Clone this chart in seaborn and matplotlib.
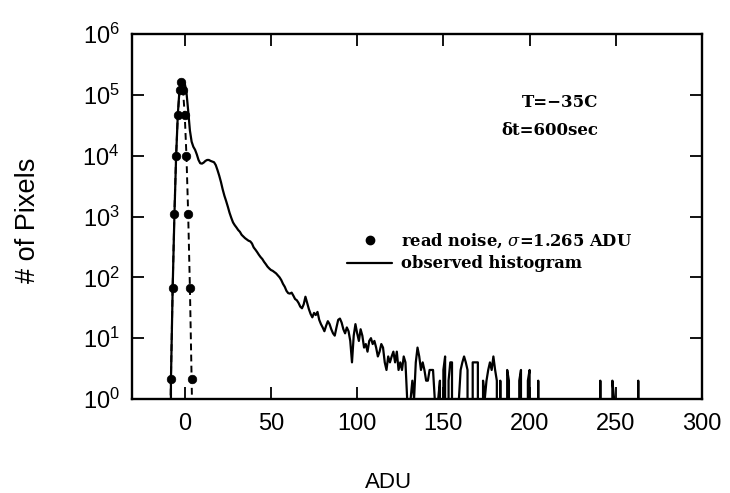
import numpy as np
import pandas as pd
import matplotlib
matplotlib.use("Agg")
import matplotlib.pyplot as plt
from matplotlib.lines import Line2D
import seaborn as sns

# ---------------- data ----------------
# read-noise Gaussian model, sigma = 1.265 ADU
noise_adu = [-9, -8, -7, -6, -5, -4, -3, -2, -1, 0, 1, 2, 3, 4, 5]
noise_counts = [0.04, 2.1, 68, 1100, 10000, 47000, 120000, 165000,
                120000, 47000, 10000, 1100, 68, 2.1, 0.04]

# observed dark histogram, one bin per ADU starting at -9
obs_first_adu = -9
obs_counts = [
    0, 2, 65, 1000, 9500, 48000, 125000, 160000, 165000, 155000,          # -9..0
    110000, 55000, 26000, 17000, 14000, 12500, 10500, 8500, 7500, 7400,  # 1..10
    7700, 8200, 8500, 8500, 8200, 8000, 7800, 7000, 5800, 4700,          # 11..20
    3700, 2800, 2200, 1800, 1450, 1150, 950, 800, 720, 660,              # 21..30
    600, 560, 500, 470, 440, 420, 400, 390, 360, 310,                    # 31..40
    285, 260, 235, 215, 200, 180, 165, 150, 140, 132,                    # 41..50
    128, 122, 116, 108, 100, 90, 78, 70, 60, 55,                         # 51..60
    54, 56, 50, 44, 42, 38, 33, 31, 36, 48,                              # 61..70
    38, 30, 25, 22, 26, 24, 27, 20, 17, 15,                              # 71..80
    13, 16, 19, 17, 14, 12, 11, 15, 20, 21,                              # 81..90
    18, 14, 12, 15, 13, 9, 4, 11, 17, 12,                                # 91..100
    9, 14, 11, 7, 8, 6, 9, 10, 8, 9,                                     # 101..110
    7, 5, 6, 8, 7, 4, 3, 5, 4, 5,                                        # 111..120
    6, 4, 6, 3, 4, 3, 5, 4, 1, 0,                                        # 121..130
    1, 2, 1, 4, 7, 5, 3, 4, 3, 2,                                        # 131..140
    2, 3, 3, 3, 1, 0, 1, 2, 0, 3,                                        # 141..150
    5, 0, 2, 4, 4, 0, 1, 0, 1, 3,                                        # 151..160
    4, 5, 4, 3, 0, 0, 4, 4, 4, 4,                                        # 161..170
    0, 0, 2, 1, 2, 3, 4, 3, 5, 3,                                        # 171..180
    2, 0, 2, 0, 0, 0, 3, 2, 0, 0,                                        # 181..190
    0, 0, 0, 2, 3, 0, 0, 0, 2, 3,                                        # 191..200
    0, 0, 0, 0, 2, 0, 0, 0, 0, 0,                                        # 201..210
    0, 0, 0, 0, 0, 0, 0, 0, 0, 0,                                        # 211..220
    0, 0, 0, 0, 0, 0, 0, 0, 0, 0,                                        # 221..230
    0, 0, 0, 0, 0, 0, 0, 0, 0, 0,                                        # 231..240
    2, 0, 0, 0, 0, 0, 0, 2, 1, 0,                                        # 241..250
    0, 0, 0, 0, 0, 0, 0, 0, 0, 0,                                        # 251..260
    0, 0, 2, 0, 0,                                                       # 261..265
]

x_ticks = [0, 50, 100, 150, 200, 250, 300]
y_ticks = [1, 10, 100, 1000, 10000, 100000, 1000000]

legend_noise = r"read noise, $\sigma$=1.265 ADU"
legend_obs = "observed histogram"
note_lines = ["T=\u221235C", "\u03b4t=600sec"]

# ---------------- figure ----------------
sns.set_style("ticks")
plt.rcParams["font.family"] = ["Liberation Sans", "DejaVu Sans"]
plt.rcParams["mathtext.fontset"] = "dejavuserif"
plt.rcParams["text.color"] = "black"
plt.rcParams["axes.labelcolor"] = "black"
plt.rcParams["xtick.color"] = "black"
plt.rcParams["ytick.color"] = "black"

fig = plt.figure(figsize=(7.30, 4.93), dpi=100)
ax = fig.add_axes([0.181, 0.1907, 0.7807, 0.7403])

obs_df = pd.DataFrame({
    "adu": np.arange(obs_first_adu, obs_first_adu + len(obs_counts)),
    "count": obs_counts,
})
noise_df = pd.DataFrame({"adu": noise_adu, "count": noise_counts})
dots_df = noise_df[noise_df["count"] >= 1]

sns.lineplot(data=obs_df, x="adu", y="count", estimator=None, sort=False,
             color="black", linewidth=1.6, ax=ax, legend=False)
sns.lineplot(data=noise_df, x="adu", y="count", estimator=None, sort=False,
             color="black", linewidth=1.4, linestyle=(0, (3.5, 2.2)),
             ax=ax, legend=False)
sns.scatterplot(data=dots_df, x="adu", y="count", color="black", s=38,
                edgecolor="black", linewidth=0.5, ax=ax, legend=False,
                zorder=5)

ax.set_yscale("log", nonpositive="clip")
ax.set_xlim(-30.5, 300)
ax.set_ylim(1, 1e6)
ax.set_xticks(x_ticks)
ax.set_yticks(y_ticks)
ax.minorticks_off()

for sp in ax.spines.values():
    sp.set_linewidth(1.7)
    sp.set_color("black")
    sp.set_visible(True)

ax.tick_params(which="major", direction="in", length=8.5, width=1.3,
               top=True, right=True, labelsize=17, pad=9)
ax.tick_params(axis="x", pad=10)

ax.set_xlabel("ADU", fontsize=16)
ax.xaxis.set_label_coords(0.449, -0.200)
ax.set_ylabel("# of Pixels", fontsize=19.5)
ax.yaxis.set_label_coords(-0.160, 0.49)

handles = [
    Line2D([], [], color="black", marker="o", markersize=6, linestyle="none"),
    Line2D([], [], color="black", linewidth=1.6),
]
ax.legend(handles, [legend_noise, legend_obs], loc="center left",
          bbox_to_anchor=(0.363, 0.403), frameon=False, borderpad=0,
          handlelength=2.75, handletextpad=0.55, labelspacing=0.3,
          prop={"family": "DejaVu Serif", "weight": "bold", "size": 11.8})

ax.text(0.818, 0.811, note_lines[0], transform=ax.transAxes, ha="right",
        va="center", fontsize=12, fontweight="bold", family="DejaVu Serif")
ax.text(0.818, 0.737, note_lines[1], transform=ax.transAxes, ha="right",
        va="center", fontsize=12, fontweight="bold", family="DejaVu Serif")

fig.savefig("out.png", dpi=100)
